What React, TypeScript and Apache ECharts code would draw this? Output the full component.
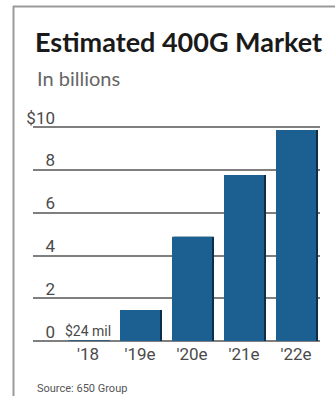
import React, { useEffect, useRef } from "react";
import * as echarts from "echarts";

const categories = ["'18", "'19e", "'20e", "'21e", "'22e"];
const values = [0.024, 1.45, 4.87, 7.76, 9.86];
const firstBarLabel = "$24 mil";
const yTicks = [0, 2, 4, 6, 8, 10];

const narrow = "Roboto, Lato, sans-serif";

export default function App() {
  const ref = useRef<HTMLDivElement>(null);
  useEffect(() => {
    if (!ref.current) return;
    const chart = echarts.init(ref.current, undefined, { renderer: "svg" });
    const top = 127;
    const bottom = 396 - 341;
    chart.setOption({
      animation: false,
      backgroundColor: "#ffffff",
      title: [
        {
          text: "Estimated 400G Market",
          left: 30,
          top: 23,
          textStyle: { fontFamily: "Lato", fontWeight: "bold", fontSize: 27, color: "#1a1a1a" },
        },
        {
          text: "In billions",
          left: 32,
          top: 63,
          textStyle: { fontFamily: "Lato", fontWeight: "normal", fontSize: 20, color: "#666666" },
        },
        {
          text: "Source: 650 Group",
          left: 32,
          top: 378,
          textStyle: { fontFamily: narrow, fontWeight: "normal", fontSize: 11, color: "#555555" },
        },
      ],
      graphic: [
        { type: "line", shape: { x1: 13.5, y1: 6, x2: 13.5, y2: 396 }, style: { stroke: "#9a9a9a", lineWidth: 2 } },
        { type: "line", shape: { x1: 13, y1: 6.5, x2: 335, y2: 6.5 }, style: { stroke: "#9a9a9a", lineWidth: 2 } },
      ],
      grid: [
        { left: 33, right: 15, top, bottom },
        { left: 62, right: 13, top, bottom },
      ],
      xAxis: [
        { gridIndex: 0, type: "value", show: false, min: 0, max: 1 },
        {
          gridIndex: 1,
          type: "category",
          data: categories,
          axisLine: { show: false },
          axisTick: { show: false },
          axisLabel: { color: "#4a4a4a", fontFamily: narrow, fontSize: 17, margin: 4 },
        },
      ],
      yAxis: [
        {
          gridIndex: 0,
          type: "value",
          min: 0,
          max: 10,
          interval: 2,
          axisLine: { show: false },
          axisTick: { show: false },
          splitLine: { show: true, lineStyle: { color: "#555555", width: 1.5 } },
          axisLabel: {
            inside: true,
            margin: 22,
            align: "right",
            verticalAlign: "bottom",
            padding: [0, 0, 1, 0],
            color: "#4a4a4a",
            fontFamily: narrow,
            fontSize: 17,
            customValues: yTicks,
            formatter: (v: number) => (v === 10 ? "$10" : String(v)),
          },
        },
        {
          gridIndex: 1,
          type: "value",
          min: 0,
          max: 10,
          interval: 2,
          show: false,
        },
      ],
      series: [
        {
          type: "bar",
          xAxisIndex: 1,
          yAxisIndex: 1,
          barWidth: 40,
          itemStyle: {
            color: "#1c5f91",
            shadowColor: "#0f2f48",
            shadowOffsetX: 2,
            shadowBlur: 0,
          },
          data: values.map((v, i) =>
            i === 0
              ? {
                  value: v,
                  label: {
                    show: true,
                    position: "top",
                    distance: 2,
                    formatter: firstBarLabel,
                    color: "#4a4a4a",
                    fontFamily: narrow,
                    fontSize: 14,
                  },
                }
              : v
          ),
        },
      ],
    });
    return () => chart.dispose();
  }, []);
  return <div ref={ref} style={{ position: "fixed", left: 0, top: 0, width: 335, height: 396 }} />;
}
